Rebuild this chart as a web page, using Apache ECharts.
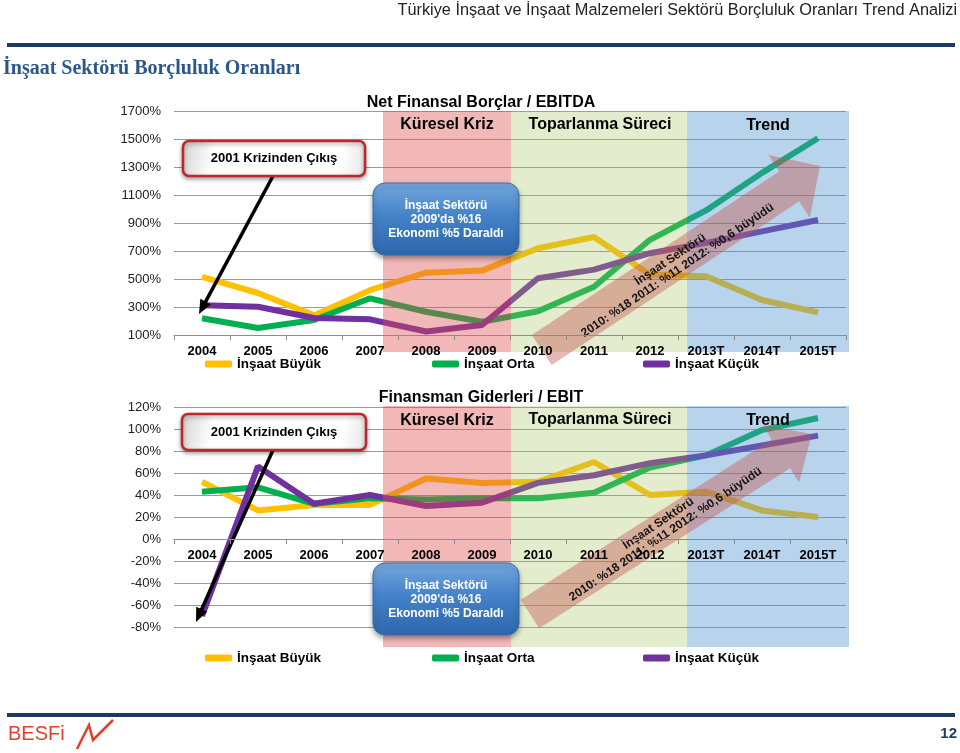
<!DOCTYPE html>
<html><head><meta charset="utf-8">
<script src="https://cdn.jsdelivr.net/npm/echarts@6/dist/echarts.min.js"></script>
<style>html,body{margin:0;padding:0;background:#fff}#c{width:960px;height:753px}</style>
</head><body><div id="c"></div><script>
// ---- data ----
const categories = ['2004','2005','2006','2007','2008','2009','2010','2011','2012','2013T','2014T','2015T'];
const seriesNames = ['İnşaat Büyük','İnşaat Orta','İnşaat Küçük'];
// Net Finansal Borçlar / EBITDA (%)
const debtBuyuk = [515, 400, 240, 420, 545, 560, 720, 800, 530, 520, 350, 262];
const debtOrta  = [220, 150, 207, 362, 266, 195, 270, 445, 780, 990, 1258, 1505];
const debtKucuk = [312, 302, 221, 212, 125, 171, 505, 567, 684, 758, 840, 921];
// Finansman Giderleri / EBIT (%)
const finBuyuk = [52, 26, 31, 31, 55, 51, 52, 70, 40, 43, 26, 20];
const finOrta  = [43, 47, 32, 37, 36, 37, 37, 42, 65, 76, 99, 110];
const finKucuk = [-70, 66, 32, 40, 30, 33, 51, 58, 69, 76, 85, 94];
// axis settings
const topAxis = {min: 100, max: 1700, step: 100, labelStep: 200};
const botAxis = {min: -80, max: 120, step: 20};

const F = 'Liberation Sans, Arial, sans-serif';
const COL = ['#FFC000', '#00B050', '#7030A0'];
const chart = echarts.init(document.getElementById('c'));

function lineSeries(name, data, idx, color) {
  return {name, type: 'line', xAxisIndex: idx, yAxisIndex: idx, data, symbol: 'none',
    lineStyle: {width: 6, color}, itemStyle: {color}, z: 2, animation: false};
}
function xAx(idx, show) {
  return {type: 'category', gridIndex: idx, data: categories, boundaryGap: true, z: 50, show,
    position: 'bottom',
    axisLine: {show: true, onZero: false, lineStyle: {color: '#8c8c8c', width: 1}},
    axisTick: {show: true, length: 5, lineStyle: {color: '#8c8c8c'}},
    axisLabel: {margin: 10, color: '#000', fontWeight: 'bold', fontSize: 13, fontFamily: F},
    splitLine: {show: false}};
}
function legendItem(name, left, top) {
  return {data: [name], left, top, padding: 0, itemGap: 0, itemWidth: 27, itemHeight: 7, icon: 'roundRect',
    textStyle: {fontSize: 13.5, fontWeight: 'bold', color: '#000', fontFamily: F}};
}

const option = {
  backgroundColor: '#fff',
  animation: false,
  grid: [
    {left: 174, top: 111, width: 672, height: 224},
    {left: 174, top: 407, width: 672, height: 220},
    // upper part of the second chart down to its zero line: carries the category axis at 0%
    {left: 174, top: 407, width: 672, height: 132}
  ],
  xAxis: [xAx(0, true), xAx(1, false), xAx(2, true)],
  yAxis: [
    {type: 'value', gridIndex: 0, min: topAxis.min, max: topAxis.max, interval: topAxis.step,
      axisLine: {show: false}, axisTick: {show: false},
      axisLabel: {margin: 13, color: '#222', fontSize: 13, fontFamily: F,
        formatter: v => ((v - topAxis.min) % topAxis.labelStep === 0 ? v + '%' : '')},
      splitLine: {show: true, lineStyle: {color: ['#9a9a9a', 'rgba(0,0,0,0)'], width: 1}}},
    {type: 'value', gridIndex: 1, min: botAxis.min, max: botAxis.max, interval: botAxis.step,
      axisLine: {show: false}, axisTick: {show: false},
      axisLabel: {margin: 13, color: '#222', fontSize: 13, fontFamily: F, formatter: '{value}%'},
      splitLine: {show: true, lineStyle: {color: '#9a9a9a', width: 1}}},
    {type: 'value', gridIndex: 2, min: 0, max: botAxis.max, show: false, splitLine: {show: false}}
  ],
  legend: [
    legendItem(seriesNames[0], 205, 357), legendItem(seriesNames[1], 432, 357), legendItem(seriesNames[2], 643, 357),
    legendItem(seriesNames[0], 205, 651), legendItem(seriesNames[1], 432, 651), legendItem(seriesNames[2], 643, 651)
  ],
  series: [
    lineSeries(seriesNames[0], debtBuyuk, 0, COL[0]),
    lineSeries(seriesNames[1], debtOrta, 0, COL[1]),
    lineSeries(seriesNames[2], debtKucuk, 0, COL[2]),
    lineSeries(seriesNames[0], finBuyuk, 1, COL[0]),
    lineSeries(seriesNames[1], finOrta, 1, COL[1]),
    lineSeries(seriesNames[2], finKucuk, 1, COL[2])
  ]
};
chart.setOption(option);

// ---- decorations ----
const G = [];
function txt(x, y, text, font, fill, align, extra) {
  G.push(Object.assign({type: 'text', x, y, z: 40, style: {text, font, fill: fill || '#000',
    textAlign: align || 'center', align: align || 'center', textVerticalAlign: 'middle', verticalAlign: 'middle'}}, extra || {}));
}
function bands(y0, y1) {
  const b = [
    {x0: 383, x1: 511, c: 'rgba(222,78,78,0.40)'},
    {x0: 511, x1: 687, c: 'rgba(165,192,92,0.30)'},
    {x0: 687, x1: 849, c: 'rgba(78,148,208,0.40)'}
  ];
  b.forEach(r => G.push({type: 'rect', z: 10, shape: {x: r.x0, y: y0, width: r.x1 - r.x0, height: y1 - y0}, style: {fill: r.c}}));
}
function bigArrow(B, T, sw, hw, hl) {
  const dx = T[0] - B[0], dy = T[1] - B[1], L = Math.hypot(dx, dy);
  const ux = dx / L, uy = dy / L, nx = -uy, ny = ux;
  const H = [T[0] - ux * hl, T[1] - uy * hl];
  const p = (P, k) => [P[0] + nx * k, P[1] + ny * k];
  G.push({type: 'polygon', z: 20, shape: {points: [p(B, sw / 2), p(H, sw / 2), p(H, hw / 2), T, p(H, -hw / 2), p(H, -sw / 2), p(B, -sw / 2)]},
    style: {fill: 'rgba(196,86,78,0.42)'}});
}
function blackArrow(S, T) {
  const dx = T[0] - S[0], dy = T[1] - S[1], L = Math.hypot(dx, dy);
  const ux = dx / L, uy = dy / L, nx = -uy, ny = ux, hl = 14, hw = 6;
  const H = [T[0] - ux * hl, T[1] - uy * hl];
  G.push({type: 'line', z: 35, shape: {x1: S[0], y1: S[1], x2: H[0] + ux * 2, y2: H[1] + uy * 2}, style: {stroke: '#000', lineWidth: 3.5}});
  G.push({type: 'polygon', z: 35, shape: {points: [T, [H[0] + nx * hw, H[1] + ny * hw], [H[0] - nx * hw, H[1] - ny * hw]]}, style: {fill: '#000'}});
}
function redBox(x, y, w, h) {
  G.push({type: 'rect', z: 38, shape: {x, y, width: w, height: h, r: 6},
    style: {fill: {type: 'linear', x: 0, y: 0, x2: 1, y2: 1, colorStops: [
      {offset: 0, color: '#d0d0d0'}, {offset: 0.18, color: '#ffffff'}, {offset: 0.85, color: '#ffffff'}, {offset: 1, color: '#e4e4e4'}]},
      stroke: '#C0272D', lineWidth: 2.5, shadowBlur: 4, shadowColor: 'rgba(0,0,0,0.35)', shadowOffsetY: 2}});
  txt(x + w / 2, y + h / 2, '2001 Krizinden Çıkış', 'bold 13px ' + F, '#000');
}
function blueBox(x, y, w, h) {
  G.push({type: 'rect', z: 38, shape: {x, y, width: w, height: h, r: 12},
    style: {fill: {type: 'linear', x: 0, y: 0, x2: 0, y2: 1, colorStops: [
      {offset: 0, color: '#75A9DE'}, {offset: 0.45, color: '#4482C8'}, {offset: 1, color: '#2D66AC'}]},
      stroke: '#3B6FAE', lineWidth: 1, shadowBlur: 5, shadowColor: 'rgba(0,0,0,0.35)', shadowOffsetY: 3}});
  const cx = x + w / 2;
  txt(cx, y + 23, 'İnşaat Sektörü', 'bold 12px ' + F, '#fff');
  txt(cx, y + 37, "2009'da %16", 'bold 12px ' + F, '#fff');
  txt(cx, y + 51, 'Ekonomi %5 Daraldı', 'bold 12px ' + F, '#fff');
}
const ANG = 34 * Math.PI / 180;
const arrowText = 'İnşaat Sektörü\n2010: %18 2011: %11 2012: %0,6 büyüdü';
function arrowLabel(x, y) {
  G.push({type: 'text', x, y, rotation: ANG, z: 40, style: {text: arrowText, font: 'bold 12px ' + F, fill: '#141414',
    lineHeight: 13, textAlign: 'center', align: 'center', textVerticalAlign: 'middle', verticalAlign: 'middle'}});
}

// header
txt(957, 11, 'Türkiye İnşaat ve İnşaat Malzemeleri Sektörü Borçluluk Oranları Trend Analizi', '16.3px Liberation Sans Narrow, Arial Narrow, ' + F, '#222', 'right');
G.push({type: 'rect', z: 5, shape: {x: 7, y: 43, width: 948, height: 4}, style: {fill: '#1F3A5F'}});
txt(3, 69, 'İnşaat Sektörü Borçluluk Oranları', 'bold 20px Liberation Serif, Times New Roman, serif', '#2C578C', 'left');

// top chart
bands(111, 352);
bigArrow([541.7, 350], [820, 166], 36, 75, 37);
arrowLabel(674, 265);
txt(481, 103, 'Net Finansal Borçlar / EBITDA', 'bold 16px ' + F, '#000');
txt(447, 125, 'Küresel Kriz', 'bold 16px ' + F, '#000');
txt(600, 125, 'Toparlanma Süreci', 'bold 16px ' + F, '#000');
txt(768, 126, 'Trend', 'bold 16px ' + F, '#000');
redBox(183, 141, 182, 35);
blackArrow([273, 176], [199, 314]);
blueBox(373, 183, 146, 72);

// bottom chart
bands(406, 647);
bigArrow([530, 614], [812, 434], 34, 68, 37);
arrowLabel(662, 529);
txt(481, 398, 'Finansman Giderleri / EBIT', 'bold 16px ' + F, '#000');
txt(447, 421, 'Küresel Kriz', 'bold 16px ' + F, '#000');
txt(600, 420, 'Toparlanma Süreci', 'bold 16px ' + F, '#000');
txt(768, 421, 'Trend', 'bold 16px ' + F, '#000');
redBox(182, 414, 184, 36);
blackArrow([273, 450], [196, 622]);
blueBox(373, 563, 146, 72);

// footer
G.push({type: 'rect', z: 5, shape: {x: 7, y: 713, width: 948, height: 4}, style: {fill: '#1F3A5F'}});
txt(8, 734, 'BESFi', '20px Liberation Sans Narrow, Arial Narrow, ' + F, '#E2402F', 'left');
G.push({type: 'polyline', z: 40, shape: {points: [[77, 749], [89, 725], [93, 740], [113, 720]]}, style: {stroke: '#E2402F', lineWidth: 2.5, fill: null}});
txt(957, 734, '12', 'bold 15px ' + F, '#1F3A5F', 'right');

chart.setOption({graphic: {elements: G}});
</script></body></html>
